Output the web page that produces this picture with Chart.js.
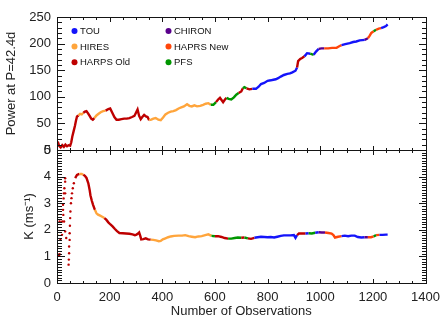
<!DOCTYPE html>
<html>
<head>
<meta charset="utf-8">
<script src="https://cdn.jsdelivr.net/npm/chart.js@4.4.1/dist/chart.umd.min.js"></script>
<style>
html, body { margin: 0; padding: 0; background: #fff; }
#wrap { position: relative; width: 447px; height: 319px; }
canvas { display: block; }
#frame { position: absolute; left: 0; top: 0; pointer-events: none; }
</style>
</head>
<body>
<div id="wrap">
<canvas id="powerChart" width="447" height="319"></canvas>
<svg id="frame" width="447" height="319" shape-rendering="crispEdges"></svg>
</div>
<script>
//--------- data ***********************************************************
// top panel: observation number / power at P=42.4d
var powerObs = [3, 8, 14, 20, 26, 32, 38, 44, 50, 54, 58, 63, 68, 72, 76, 82, 88, 94, 100, 106,
        112, 118, 124, 130, 136, 142, 150, 158, 166, 175, 185, 195, 202, 210, 218, 226, 235, 245, 255, 265,
        275, 285, 294, 300, 306, 312, 318, 324, 331, 338, 344, 350, 358, 366, 375, 385, 394, 403, 412, 422,
        432, 442, 452, 462, 472, 482, 494, 503, 512, 522, 532, 544, 555, 565, 575, 584, 594, 604, 612, 619,
        625, 631, 638, 644, 652, 662, 672, 681, 690, 700, 706, 712, 720, 731, 742, 756, 766, 775, 787, 800,
        812, 822, 831, 840, 850, 862, 875, 885, 894, 906, 912, 916, 924, 931, 940, 950, 962, 975, 984, 994,
        1005, 1015, 1030, 1045, 1062, 1072, 1081, 1095, 1112, 1125, 1137, 1150, 1169, 1181, 1188, 1194, 1203, 1212, 1222, 1231,
        1241, 1250, 1256];
var powerVals = [16, 8, 5, 9, 6, 10, 7, 9, 8, 14, 25, 35, 45, 55, 63, 65, 68, 67, 70, 72,
        73, 69, 64, 59, 57, 60, 65, 68, 71, 73, 74, 77, 78, 70, 62, 57, 57, 58, 59, 59,
        60, 62, 64, 70, 76, 64, 58, 62, 66, 63, 62, 56, 57, 59, 60, 57, 56, 61, 67, 70,
        72, 73, 75, 78, 80, 82, 86, 83, 82, 84, 82, 83, 85, 87, 88, 85, 85, 90, 95, 98,
        94, 90, 95, 98, 96, 95, 99, 104, 107, 110, 116, 118, 116, 114, 115, 115, 119, 124, 126, 130,
        131, 132, 133, 135, 138, 141, 143, 144, 146, 149, 155, 167, 171, 173, 176, 182, 181, 179, 185, 190,
        191, 191, 191, 192, 192, 195, 197, 199, 201, 203, 204, 206, 207, 210, 215, 220, 223, 226, 228, 229,
        231, 233, 236];

// bottom panel: observation number / K, continuous part
var kObs = [69, 76, 85, 94, 100, 106, 112, 119, 124, 127, 132, 137, 144, 150, 156, 162, 170, 180, 187, 195,
        203, 212, 220, 228, 237, 250, 262, 275, 287, 296, 302, 308, 312, 316, 320, 328, 337, 346, 356, 366,
        376, 387, 394, 402, 412, 422, 432, 445, 462, 475, 487, 500, 512, 525, 537, 550, 563, 575, 587, 600,
        612, 625, 637, 650, 662, 675, 687, 700, 712, 725, 737, 750, 762, 775, 787, 800, 812, 825, 837, 850,
        862, 875, 887, 900, 906, 912, 919, 931, 944, 956, 968, 981, 994, 1006, 1018, 1031, 1043, 1050, 1056, 1068,
        1081, 1093, 1106, 1118, 1131, 1143, 1156, 1168, 1181, 1193, 1203, 1212, 1225, 1237, 1250, 1256];
var kVals = [3.94, 4.06, 4.10, 4.10, 4.07, 4.03, 3.95, 3.75, 3.50, 3.30, 3.10, 2.94, 2.75, 2.62, 2.57, 2.54, 2.50, 2.44, 2.38, 2.28,
        2.20, 2.12, 2.03, 1.95, 1.88, 1.87, 1.86, 1.85, 1.83, 1.80, 1.82, 1.86, 1.90, 1.78, 1.64, 1.65, 1.68, 1.64, 1.63, 1.62,
        1.60, 1.57, 1.58, 1.64, 1.68, 1.72, 1.75, 1.77, 1.78, 1.78, 1.80, 1.76, 1.74, 1.72, 1.75, 1.76, 1.80, 1.83, 1.77, 1.76,
        1.76, 1.73, 1.69, 1.67, 1.67, 1.69, 1.71, 1.70, 1.71, 1.68, 1.66, 1.70, 1.72, 1.74, 1.73, 1.72, 1.73, 1.71, 1.74, 1.77,
        1.79, 1.79, 1.79, 1.80, 1.70, 1.80, 1.86, 1.86, 1.86, 1.87, 1.86, 1.89, 1.91, 1.90, 1.90, 1.88, 1.86, 1.80, 1.71, 1.74,
        1.76, 1.78, 1.76, 1.78, 1.78, 1.73, 1.71, 1.72, 1.72, 1.72, 1.75, 1.80, 1.81, 1.81, 1.82, 1.82];

// bottom panel: scattered early K values
var kEarlyObs = [1, 1, 1, 1, 6, 8, 10, 10, 13, 19, 20, 23, 23, 24, 25, 26, 27, 28, 31, 31,
        31, 31, 35, 44, 45, 46, 46, 48, 48, 49, 50, 51, 53, 55, 57, 60, 64];
var kEarlyVals = [2.56, 1.81, 1.37, 0.19, 1.06, 1.02, 1.08, 2.31, 1.62, 1.81, 2.31, 2.94, 2.75, 2.56, 3.18, 3.37, 2.31, 3.56, 3.94, 3.81,
        3.37, 1.94, 1.69, 0.69, 0.88, 1.12, 1.37, 1.62, 1.87, 2.15, 2.44, 2.69, 3.00, 3.19, 3.37, 3.56, 3.75];

// which instrument took each stretch of observations (first observation of the stretch)
var instStart = [0, 3, 78, 98, 140, 178, 350, 580, 600, 640, 690, 705, 718, 742, 910, 935, 955, 972,
        990, 1010, 1075, 1160, 1178, 1195, 1210, 1225];
var instName = ['HIRES', 'HARPS Old', 'HIRES', 'HARPS Old', 'HIRES', 'HARPS Old', 'HIRES', 'PFS', 'HARPS Old',
        'PFS', 'HARPS Old', 'PFS', 'HARPS Old', 'TOU', 'HARPS Old', 'TOU', 'PFS', 'TOU',
        'CHIRON', 'HAPRS New', 'TOU', 'CHIRON', 'HAPRS New', 'PFS', 'HAPRS New', 'TOU'];

var legendNames = ['TOU', 'CHIRON', 'HIRES', 'HAPRS New', 'HARPS Old', 'PFS'];

var instColors = {
        'TOU': 'rgb(20, 20, 250)',
        'CHIRON': 'rgb(90, 0, 140)',
        'HIRES': 'rgb(255, 165, 60)',
        'HAPRS New': 'rgb(255, 70, 10)',
        'HARPS Old': 'rgb(190, 0, 0)',
        'PFS': 'rgb(0, 150, 0)'
};

var FRAME_COLOR = '#151515';

// colour of the instrument that took observation n
function colorAt(n) {
        var name = instName[0];
        for (var i = 0; i < instStart.length; i++) {
                if (instStart[i] <= n) name = instName[i];
        }
        return instColors[name];
}

function toPoints(xs, ys) {
        return xs.map(function (x, i) { return { x: x, y: ys[i] }; });
}

var FONT = '"Liberation Sans", Arial, Helvetica, sans-serif';
Chart.defaults.font.family = FONT;
Chart.defaults.color = '#222';

//--------- frame + inward ticks on every side, IDL style *******************
// collects the frame as a list of 1px rectangles [x, y, w, h] from the chart's scales
function frameRects(chart) {
        var out = [];
        var xs = chart.scales.x;
        var area = chart.chartArea;
        var panels = [
                { s: chart.scales.yTop, minor: 10, major: 50 },
                { s: chart.scales.yBot, minor: 0.1, major: 1 }
        ];
        panels.forEach(function (p) {
                var s = p.s;
                var y0 = Math.round(s.top);
                var y1 = Math.round(s.bottom);
                var x0 = Math.round(area.left);
                var x1 = Math.round(area.right);
                out.push([x0, y0, x1 - x0 + 1, 1]);
                out.push([x0, y1, x1 - x0 + 1, 1]);
                out.push([x0, y0, 1, y1 - y0 + 1]);
                out.push([x1, y0, 1, y1 - y0 + 1]);
                for (var v = 0; v <= 1400; v += 50) {
                        var px = Math.round(xs.getPixelForValue(v));
                        var len = (v % 200 === 0) ? 4 : 2;
                        out.push([px, y1 - len, 1, len]);
                        out.push([px, y0 + 1, 1, len]);
                }
                var steps = Math.round((s.max - s.min) / p.minor);
                for (var i = 0; i <= steps; i++) {
                        var val = s.min + i * p.minor;
                        var py = Math.round(s.getPixelForValue(val));
                        var q = val / p.major;
                        var l = (Math.abs(q - Math.round(q)) < 1e-6) ? 7 : 4;
                        out.push([x0 + 1, py, l, 1]);
                        out.push([x1 - l, py, l, 1]);
                }
        });
        return out;
}

// frame ticks and the instrument legend, drawn in one pass
var idlDecor = {
        id: 'idlDecor',
        afterDraw: function (chart) {
                var g = chart.ctx;
                g.save();
                g.fillStyle = FRAME_COLOR;
                try {
                        frameRects(chart).forEach(function (r) { g.fillRect(r[0], r[1], r[2], r[3]); });
                } catch (e) { }
                g.restore();

                var s = chart.scales.yTop;
                var left = chart.chartArea.left;
                g.save();
                g.font = '9.5px ' + FONT;
                g.textBaseline = 'middle';
                legendNames.forEach(function (name, i) {
                        var col = i % 2, row = Math.floor(i / 2);
                        var cx = left + 17.5 + col * 94;
                        var cy = s.top + 14 + row * 15.6;
                        g.fillStyle = instColors[name];
                        g.beginPath();
                        g.arc(cx, cy, 3, 0, Math.PI * 2);
                        g.fill();
                        g.fillStyle = '#111';
                        g.fillText(name, cx + 5.5, cy + 0.5);
                });
                g.restore();
        }
};

var segColor = function (c) { return colorAt(c.p0.parsed.x); };
var pointColor = function (c) { return colorAt(c.raw ? c.raw.x : 0); };
var plainNumber = function (value) { return String(value); };

var chartData = {
        datasets: [
                {
                        label: 'Power',
                        data: toPoints(powerObs, powerVals),
                        yAxisID: 'yTop',
                        showLine: true,
                        borderWidth: 2.4,
                        borderColor: instColors['HARPS Old'],
                        segment: { borderColor: segColor },
                        pointRadius: 0
                },
                {
                        label: 'K',
                        data: toPoints(kObs, kVals),
                        yAxisID: 'yBot',
                        showLine: true,
                        borderWidth: 2.4,
                        borderColor: instColors['HARPS Old'],
                        segment: { borderColor: segColor },
                        pointRadius: 0
                },
                {
                        label: 'K early',
                        data: toPoints(kEarlyObs, kEarlyVals),
                        yAxisID: 'yBot',
                        showLine: false,
                        pointRadius: 1.2,
                        pointBorderWidth: 0,
                        pointBackgroundColor: pointColor
                }
        ]
};

var chartConfig = {
        type: 'scatter',
        data: chartData,
        plugins: [idlDecor],
        options: {
                responsive: false,
                animation: false,
                events: [],
                layout: { padding: { left: 0, right: 17, top: 17, bottom: 0 } },
                plugins: { legend: { display: false }, tooltip: { enabled: false } },
                scales: {
                        x: {
                                type: 'linear',
                                position: 'bottom',
                                min: 0,
                                max: 1400,
                                grid: { display: false, drawTicks: false },
                                border: { display: false },
                                ticks: { stepSize: 200, padding: 7, font: { size: 13 }, maxRotation: 0, autoSkip: false, callback: plainNumber },
                                title: { display: true, text: 'Number of Observations', font: { size: 13 }, padding: { top: 0, bottom: 0 } },
                                afterFit: function (s) { s.height = 36; }
                        },
                        // stacked scales are placed bottom-up, so the lower panel comes first
                        yBot: {
                                type: 'linear',
                                position: 'left',
                                stack: 'panels',
                                stackWeight: 1,
                                min: 0,
                                max: 5,
                                grid: { display: false, drawTicks: false },
                                border: { display: false },
                                ticks: { stepSize: 1, padding: 6, font: { size: 13 }, autoSkip: false, callback: plainNumber },
                                title: { display: true, text: 'K (ms\u207B\u00B9)', font: { size: 13 }, padding: { top: 22, bottom: 0 } },
                                afterFit: function (s) { s.width = 57; }
                        },
                        yTop: {
                                type: 'linear',
                                position: 'left',
                                stack: 'panels',
                                stackWeight: 1,
                                min: 0,
                                max: 250,
                                grid: { display: false, drawTicks: false },
                                border: { display: false },
                                ticks: { stepSize: 50, padding: 6, font: { size: 13 }, autoSkip: false, callback: plainNumber },
                                title: { display: true, text: 'Power at P=42.4d', font: { size: 13 }, padding: { top: 4, bottom: 0 } },
                                afterFit: function (s) { s.width = 57; }
                        }
                }
        }
};

var ctx = document.getElementById('powerChart').getContext('2d');
var powerChart = new Chart(ctx, chartConfig);

// same frame, repeated as an svg layer over the canvas
var svg = document.getElementById('frame');
frameRects(powerChart).forEach(function (r) {
        var el = document.createElementNS('http://www.w3.org/2000/svg', 'rect');
        el.setAttribute('x', r[0]);
        el.setAttribute('y', r[1]);
        el.setAttribute('width', r[2]);
        el.setAttribute('height', r[3]);
        el.setAttribute('fill', FRAME_COLOR);
        svg.appendChild(el);
});
</script>
</body>
</html>
